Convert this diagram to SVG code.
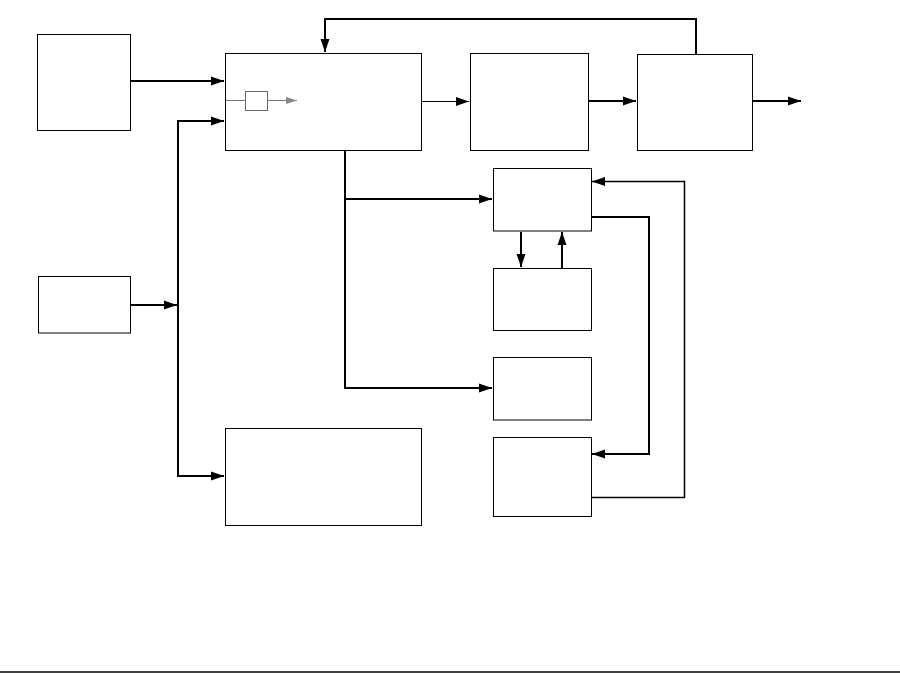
<svg xmlns="http://www.w3.org/2000/svg" width="900" height="673" viewBox="0 0 900 673">
<style>
.box{fill:#fff;stroke:#000;stroke-width:1}
.thick{fill:none;stroke:#000;stroke-width:2}
.thin{fill:none;stroke:#000;stroke-width:1}
.mid{fill:none;stroke:#000;stroke-width:1.5}
.gray{fill:none;stroke:#777;stroke-width:1}
</style>
<defs>
<marker id="ah" markerUnits="userSpaceOnUse" markerWidth="14" markerHeight="10" refX="13" refY="5" orient="auto"><path d="M0,0.5 L13,5 L0,9.5 Z" fill="#000"/></marker>
<marker id="ag" markerUnits="userSpaceOnUse" markerWidth="12" markerHeight="8" refX="11" refY="4" orient="auto"><path d="M0,0.5 L11,4 L0,7.5 Z" fill="#888"/></marker>
</defs>
<rect width="900" height="673" fill="#fff"/>
<g id="nodeA"><rect class="box" x="37.5" y="34.5" width="93" height="96"/></g>
<g id="nodeB"><rect class="box" x="38.5" y="276.5" width="92" height="56.5"/></g>
<g id="nodeMain"><rect class="box" x="225.5" y="53.5" width="196" height="97"/>
<rect fill="#fff" stroke="#666" stroke-width="1" x="245.5" y="91.5" width="22" height="19"/></g>
<g id="nodeC"><rect class="box" x="470.5" y="53.5" width="118" height="97"/></g>
<g id="nodeD"><rect class="box" x="637.5" y="54.5" width="115" height="96"/></g>
<g id="nodeE"><rect class="box" x="493.5" y="168.5" width="98" height="62.5"/></g>
<g id="nodeF"><rect class="box" x="493.5" y="268.5" width="98" height="62"/></g>
<g id="nodeH"><rect class="box" x="493.5" y="357.5" width="98" height="62.5"/></g>
<g id="nodeG"><rect class="box" x="493.5" y="437.5" width="98" height="79"/></g>
<g id="nodeBottom"><rect class="box" x="225.5" y="428.5" width="196" height="97"/></g>
<g id="connectors">
<path class="gray" d="M225.5,100.5 H245.5" stroke="#aaa"/>
<path class="gray" d="M267.5,100.5 H297" marker-end="url(#ag)"/>
<path class="thick" d="M131,81 H224" marker-end="url(#ah)"/>
<path class="thick" d="M131,305 H177" marker-end="url(#ah)"/>
<path class="thick" d="M178,120 V476 H224" marker-end="url(#ah)"/>
<path class="thick" d="M177,121 H224" marker-end="url(#ah)"/>
<path class="thin" d="M422,101.5 H469" marker-end="url(#ah)"/>
<path class="thick" d="M589,101 H636" marker-end="url(#ah)"/>
<path class="thick" d="M753,101 H801" marker-end="url(#ah)"/>
<path class="thick" d="M696,54 V19 H325 V52" marker-end="url(#ah)"/>
<path class="thick" d="M345,151 V388 H492" marker-end="url(#ah)"/>
<path class="thick" d="M345,199 H492" marker-end="url(#ah)"/>
<path class="thick" d="M521,232 V267" marker-end="url(#ah)"/>
<path class="thick" d="M562,268 V232" marker-end="url(#ah)"/>
<path class="thick" d="M592,217 H649 V454 H592" marker-end="url(#ah)"/>
<path class="mid" d="M592,497.5 H684.5 V181.5 H592" marker-end="url(#ah)"/>
</g>
<path d="M0,672 H900" stroke="#000" stroke-width="1.5"/>
</svg>
